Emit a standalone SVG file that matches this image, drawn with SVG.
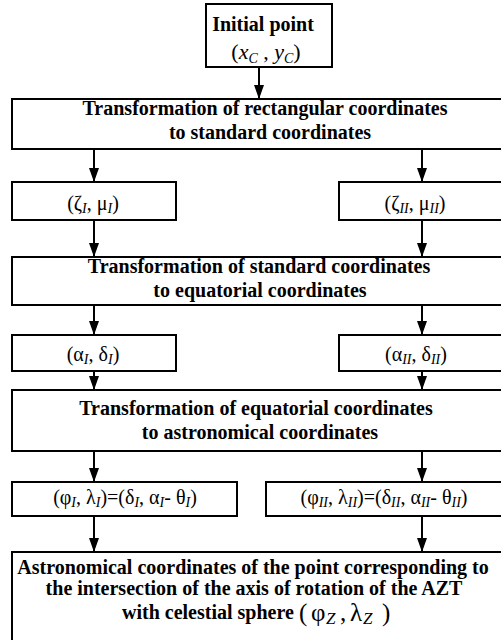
<svg xmlns="http://www.w3.org/2000/svg" width="501" height="640" viewBox="0 0 501 640">
<style>
.box{fill:#fff;stroke:#000;stroke-width:2}
.tb{font-family:"Liberation Serif","Times New Roman",serif;font-weight:bold;font-size:20px;text-anchor:middle;fill:#000}
.m{font-family:"Liberation Serif","Times New Roman",serif;font-size:20px;text-anchor:middle;fill:#000}
.sub{font-style:italic;font-size:14px}
.it{font-style:italic}
.conn line{stroke:#000;stroke-width:2;marker-end:url(#ah)}
</style>
<defs>
<marker id="ah" viewBox="0 0 14 10" refX="14" refY="5" markerWidth="14" markerHeight="10" markerUnits="userSpaceOnUse" orient="auto">
<path d="M0,0 L14,5 L0,10 z" fill="#000"/>
</marker>
</defs>
<rect width="501" height="640" fill="#fff"/>

<g id="initial">
<rect class="box" x="206" y="4" width="126" height="63"/>
<text class="tb" x="263" y="31">Initial point</text>
<text class="m" x="266" y="59" style="font-size:22px">(<tspan class="it">x</tspan><tspan class="sub" dy="4">C</tspan><tspan dy="-4"> , </tspan><tspan class="it">y</tspan><tspan class="sub" dy="4">C</tspan><tspan dy="-4">)</tspan></text>
</g>

<g id="rect2std">
<rect class="box" x="12" y="99" width="520" height="50"/>
<text class="tb" x="265" y="115">Transformation of rectangular coordinates</text>
<text class="tb" x="270" y="139">to standard coordinates</text>
</g>

<g id="zetaI">
<rect class="box" x="12" y="182" width="164" height="38"/>
<text class="m" x="93" y="210">(ζ<tspan class="sub" dy="3">I</tspan><tspan dy="-3">, μ</tspan><tspan class="sub" dy="3">I</tspan><tspan dy="-3">)</tspan></text>
</g>
<g id="zetaII">
<rect class="box" x="339" y="182" width="180" height="38"/>
<text class="m" x="415" y="210">(ζ<tspan class="sub" dy="3">II</tspan><tspan dy="-3">, μ</tspan><tspan class="sub" dy="3">II</tspan><tspan dy="-3">)</tspan></text>
</g>

<g id="std2eq">
<rect class="box" x="12" y="257" width="520" height="48"/>
<text class="tb" x="259" y="273">Transformation of standard coordinates</text>
<text class="tb" x="260" y="297">to equatorial coordinates</text>
</g>

<g id="alphaI">
<rect class="box" x="12" y="335" width="164" height="36"/>
<text class="m" x="93" y="361">(α<tspan class="sub" dy="3">I</tspan><tspan dy="-3">, δ</tspan><tspan class="sub" dy="3">I</tspan><tspan dy="-3">)</tspan></text>
</g>
<g id="alphaII">
<rect class="box" x="339" y="335" width="180" height="36"/>
<text class="m" x="416" y="361">(α<tspan class="sub" dy="3">II</tspan><tspan dy="-3">, δ</tspan><tspan class="sub" dy="3">II</tspan><tspan dy="-3">)</tspan></text>
</g>

<g id="eq2astro">
<rect class="box" x="12" y="390" width="520" height="61"/>
<text class="tb" x="256" y="415">Transformation of equatorial coordinates</text>
<text class="tb" x="260" y="439">to astronomical coordinates</text>
</g>

<g id="phiI">
<rect class="box" x="12" y="482" width="225" height="34"/>
<text class="m" x="125" y="504">(φ<tspan class="sub" dy="3">I</tspan><tspan dy="-3">, λ</tspan><tspan class="sub" dy="3">I</tspan><tspan dy="-3">)=(δ</tspan><tspan class="sub" dy="3">I</tspan><tspan dy="-3">, α</tspan><tspan class="sub" dy="3">I</tspan><tspan dy="-3">- θ</tspan><tspan class="sub" dy="3">I</tspan><tspan dy="-3">)</tspan></text>
</g>
<g id="phiII">
<rect class="box" x="266" y="482" width="250" height="34"/>
<text class="m" x="384" y="504">(φ<tspan class="sub" dy="3">II</tspan><tspan dy="-3">, λ</tspan><tspan class="sub" dy="3">II</tspan><tspan dy="-3">)=(δ</tspan><tspan class="sub" dy="3">II</tspan><tspan dy="-3">, α</tspan><tspan class="sub" dy="3">II</tspan><tspan dy="-3">- θ</tspan><tspan class="sub" dy="3">II</tspan><tspan dy="-3">)</tspan></text>
</g>

<g id="result">
<rect class="box" x="12" y="552" width="520" height="110"/>
<text class="tb" x="253" y="574">Astronomical coordinates of the point corresponding to</text>
<text class="tb" x="254" y="595">the intersection of the axis of rotation of the AZT</text>
<text class="tb" x="122" y="619" style="text-anchor:start">with celestial sphere</text>
<text class="m" y="621" style="text-anchor:start;font-size:25px"><tspan x="299">(</tspan><tspan x="311">φ</tspan><tspan class="sub" x="326" dy="3" style="font-size:17px">Z</tspan><tspan x="340" dy="-3">,</tspan><tspan x="350">λ</tspan><tspan class="sub" x="363" dy="3" style="font-size:17px">Z</tspan><tspan x="382" dy="-3">)</tspan></text>
</g>

<g id="connectors" class="conn">
<line x1="259" y1="67" x2="259" y2="99"/>
<line x1="94" y1="149" x2="94" y2="182"/>
<line x1="422" y1="149" x2="422" y2="182"/>
<line x1="94" y1="220" x2="94" y2="257"/>
<line x1="422" y1="220" x2="422" y2="257"/>
<line x1="94" y1="305" x2="94" y2="335"/>
<line x1="422" y1="305" x2="422" y2="335"/>
<line x1="94" y1="371" x2="94" y2="390"/>
<line x1="422" y1="371" x2="422" y2="390"/>
<line x1="94" y1="451" x2="94" y2="482"/>
<line x1="422" y1="451" x2="422" y2="482"/>
<line x1="94" y1="516" x2="94" y2="552"/>
<line x1="422" y1="516" x2="422" y2="552"/>
</g>
</svg>
